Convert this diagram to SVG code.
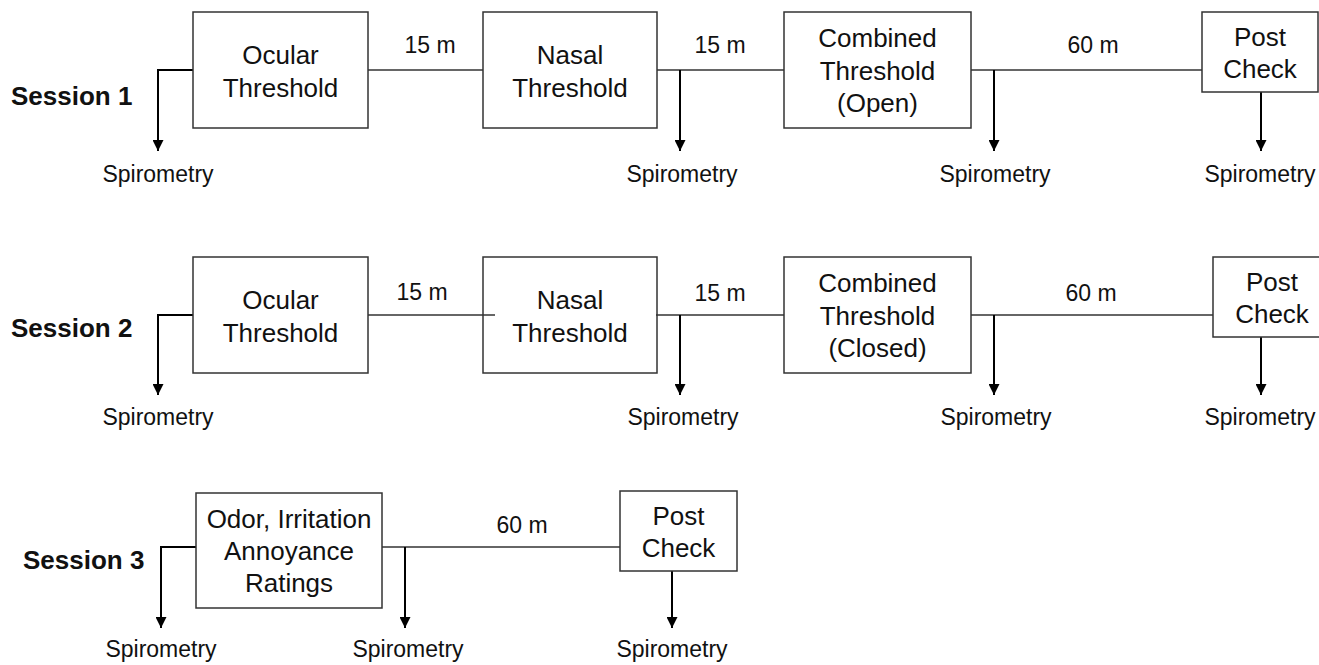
<svg xmlns="http://www.w3.org/2000/svg" width="1319" height="665" viewBox="0 0 1319 665">
<style>
.box{fill:none;stroke:#333;stroke-width:1.5}
.t{font-family:"Liberation Sans",Arial,sans-serif;font-size:26px;fill:#111;text-anchor:middle}
.s{font-family:"Liberation Sans",Arial,sans-serif;font-size:23px;fill:#111;text-anchor:middle}
.sess{font-family:"Liberation Sans",Arial,sans-serif;font-size:26px;font-weight:bold;fill:#111}
.ln{fill:none;stroke:#333;stroke-width:1.5}
.ar{fill:none;stroke:#000;stroke-width:2;marker-end:url(#ah)}
</style>
<defs>
<marker id="ah" markerUnits="userSpaceOnUse" markerWidth="11" markerHeight="11" refX="11" refY="5.5" orient="auto" viewBox="0 0 11 11">
<path d="M0,0 L11,5.5 L0,11 z" fill="#000"/>
</marker>
</defs>
<rect width="1319" height="665" fill="#fff"/>

<g id="connectors">
<!-- Session 1 -->
<path class="ar" d="M193,70 H158 V151"/>
<path class="ln" d="M368,70 H483"/>
<path class="ln" d="M657,70 H784"/>
<path class="ar" d="M680,70 V151"/>
<path class="ln" d="M971,70 H1202"/>
<path class="ar" d="M994,70 V151"/>
<path class="ar" d="M1261,92 V151"/>
<text class="s" x="430" y="53">15 m</text>
<text class="s" x="720" y="53">15 m</text>
<text class="s" x="1093" y="53">60 m</text>
<!-- Session 2 -->
<path class="ar" d="M193,315 H158 V395"/>
<path class="ln" d="M368,315 H495"/>
<path class="ln" d="M656,315 H784"/>
<path class="ar" d="M680,315 V395"/>
<path class="ln" d="M971,315 H1213"/>
<path class="ar" d="M994,315 V395"/>
<path class="ar" d="M1261,337 V395"/>
<text class="s" x="422" y="300">15 m</text>
<text class="s" x="720" y="301">15 m</text>
<text class="s" x="1091" y="301">60 m</text>
<!-- Session 3 -->
<path class="ar" d="M196,547 H161 V628"/>
<path class="ln" d="M382,547 H620"/>
<path class="ar" d="M405,547 V628"/>
<path class="ar" d="M672,571 V628"/>
<text class="s" x="522" y="533">60 m</text>
</g>

<g id="session1-label"><text class="sess" x="11" y="105">Session 1</text></g>
<g id="s1-ocular"><rect class="box" x="193" y="12" width="175" height="116"/><text class="t" x="280.5" y="64">Ocular</text><text class="t" x="280.5" y="97">Threshold</text></g>
<g id="s1-nasal"><rect class="box" x="483" y="12" width="174" height="116"/><text class="t" x="570" y="64">Nasal</text><text class="t" x="570" y="97">Threshold</text></g>
<g id="s1-combined"><rect class="box" x="784" y="12" width="187" height="116"/><text class="t" x="877.5" y="47">Combined</text><text class="t" x="877.5" y="80">Threshold</text><text class="t" x="877.5" y="112">(Open)</text></g>
<g id="s1-post"><rect class="box" x="1202" y="12" width="116" height="80"/><text class="t" x="1260" y="46">Post</text><text class="t" x="1260" y="78">Check</text></g>
<g id="s1-spiro"><text class="s" x="158" y="182">Spirometry</text><text class="s" x="682" y="182">Spirometry</text><text class="s" x="995" y="182">Spirometry</text><text class="s" x="1260" y="182">Spirometry</text></g>

<g id="session2-label"><text class="sess" x="11" y="337">Session 2</text></g>
<g id="s2-ocular"><rect class="box" x="193" y="257" width="175" height="116"/><text class="t" x="280.5" y="309">Ocular</text><text class="t" x="280.5" y="342">Threshold</text></g>
<g id="s2-nasal"><rect class="box" x="483" y="257" width="174" height="116"/><text class="t" x="570" y="309">Nasal</text><text class="t" x="570" y="342">Threshold</text></g>
<g id="s2-combined"><rect class="box" x="784" y="257" width="187" height="116"/><text class="t" x="877.5" y="292">Combined</text><text class="t" x="877.5" y="325">Threshold</text><text class="t" x="877.5" y="357">(Closed)</text></g>
<g id="s2-post"><rect class="box" x="1213" y="257" width="118" height="80"/><text class="t" x="1272" y="291">Post</text><text class="t" x="1272" y="323">Check</text></g>
<g id="s2-spiro"><text class="s" x="158" y="425">Spirometry</text><text class="s" x="683" y="425">Spirometry</text><text class="s" x="996" y="425">Spirometry</text><text class="s" x="1260" y="425">Spirometry</text></g>

<g id="session3-label"><text class="sess" x="23" y="569">Session 3</text></g>
<g id="s3-ratings"><rect class="box" x="196" y="493" width="186" height="115"/><text class="t" x="289" y="528">Odor, Irritation</text><text class="t" x="289" y="560">Annoyance</text><text class="t" x="289" y="592">Ratings</text></g>
<g id="s3-post"><rect class="box" x="620" y="491" width="117" height="80"/><text class="t" x="678.5" y="525">Post</text><text class="t" x="678.5" y="557">Check</text></g>
<g id="s3-spiro"><text class="s" x="161" y="657">Spirometry</text><text class="s" x="408" y="657">Spirometry</text><text class="s" x="672" y="657">Spirometry</text></g>
</svg>
